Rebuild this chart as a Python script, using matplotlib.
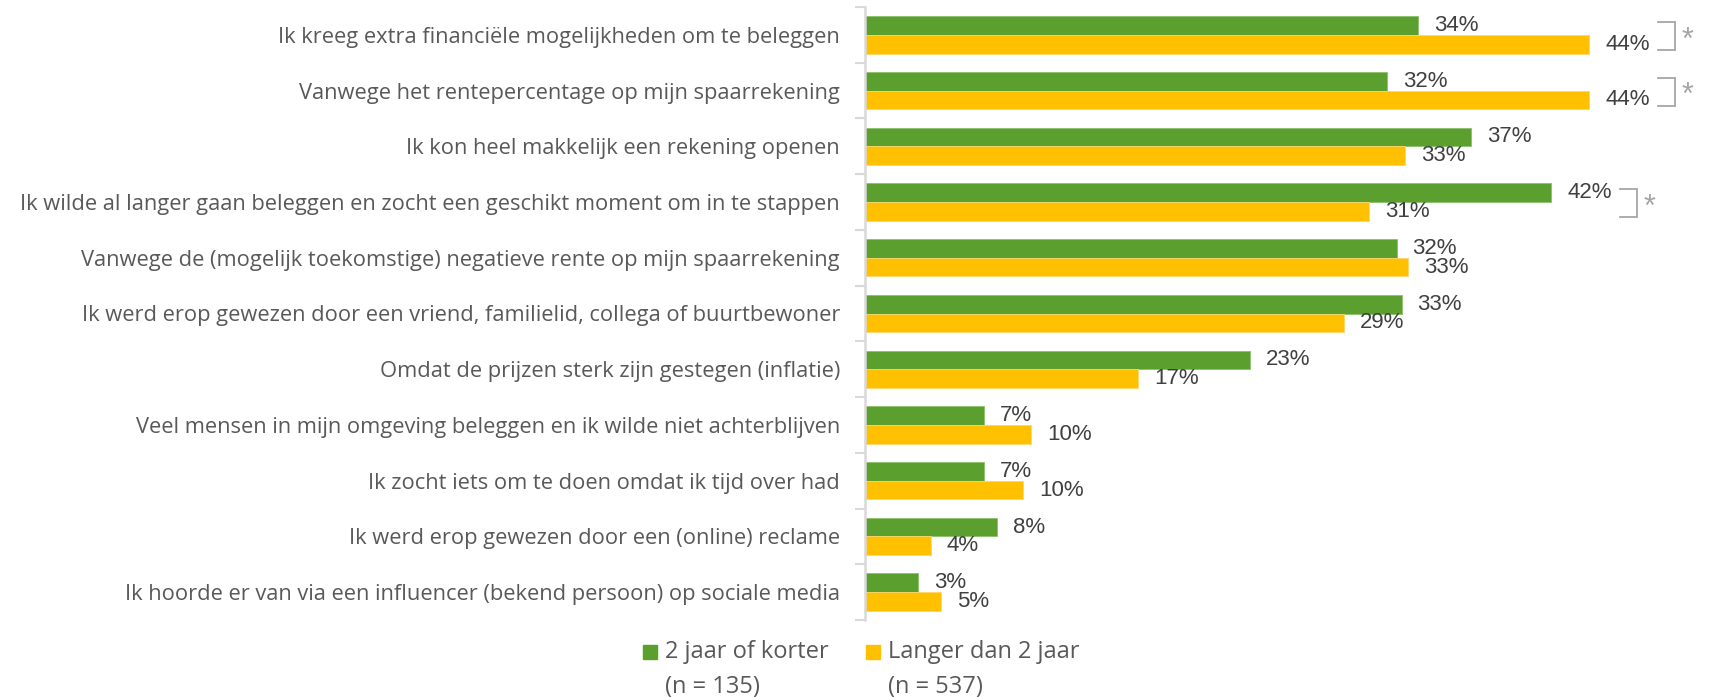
import matplotlib
matplotlib.use("Agg")
import matplotlib.pyplot as plt
from matplotlib.patches import Rectangle
import numpy as np

categories = [
    "Ik kreeg extra financiële mogelijkheden om te beleggen",
    "Vanwege het rentepercentage op mijn spaarrekening",
    "Ik kon heel makkelijk een rekening openen",
    "Ik wilde al langer gaan beleggen en zocht een geschikt moment om in te stappen",
    "Vanwege de (mogelijk toekomstige) negatieve rente op mijn spaarrekening",
    "Ik werd erop gewezen door een vriend, familielid, collega of buurtbewoner",
    "Omdat de prijzen sterk zijn gestegen (inflatie)",
    "Veel mensen in mijn omgeving beleggen en ik wilde niet achterblijven",
    "Ik zocht iets om te doen omdat ik tijd over had",
    "Ik werd erop gewezen door een (online) reclame",
    "Ik hoorde er van via een influencer (bekend persoon) op sociale media",
]
short_vals = [33.6, 31.7, 36.8, 41.7, 32.3, 32.6, 23.4, 7.2, 7.2, 8.0, 3.2]
long_vals = [44.0, 44.0, 32.8, 30.6, 33.0, 29.1, 16.6, 10.1, 9.6, 4.0, 4.6]
significant = [True, True, False, True, False, False, False, False, False, False, False]
series_names = ["2 jaar of korter", "Langer dan 2 jaar"]
series_n = ["(n = 135)", "(n = 537)"]

GREEN = "#5B9F2F"
ORANGE = "#FFC000"
LABEL_C = "#404040"
CAT_C = "#595959"
GRAY = "#A6A6A6"

W, H, DPI = 1711, 697, 100
fig = plt.figure(figsize=(W / DPI, H / DPI), dpi=DPI)
ax_left, ax_top, ax_bottom = 865, 7, 620
ax = fig.add_axes([ax_left / W, 1 - ax_bottom / H, (W - ax_left) / W, (ax_bottom - ax_top) / H])

xmax = 51.4
ax.set_xlim(0, xmax)
n = len(categories)
ax.set_ylim(n - 0.5, -0.5)
y = np.arange(n)
bh = 0.335
ax.barh(y - bh / 2, short_vals, height=bh, color=GREEN, edgecolor="#8CC06A", linewidth=0.6)
ax.barh(y + bh / 2, long_vals, height=bh, color=ORANGE, edgecolor="#FFD66A", linewidth=0.6)

px_per_unit = (W - ax_left) / xmax
lab_font = dict(family="Liberation Sans", size=16, color=LABEL_C)
for i in range(n):
    ax.annotate(f"{short_vals[i]:.0f}%", (short_vals[i], y[i] - bh / 2), xytext=(11.5, 0),
                textcoords="offset points", ha="left", va="center", **lab_font)
    ax.annotate(f"{long_vals[i]:.0f}%", (long_vals[i], y[i] + bh / 2), xytext=(11.5, 0),
                textcoords="offset points", ha="left", va="center", **lab_font)
    if significant[i]:
        m = max(short_vals[i], long_vals[i])
        x0 = m + 69 / px_per_unit
        x1 = m + 86 / px_per_unit
        xs = m + 98 / px_per_unit
        ax.plot([x0, x1, x1, x0], [y[i] - 0.23, y[i] - 0.23, y[i] + 0.27, y[i] + 0.27],
                color=GRAY, lw=1.3, clip_on=False, solid_joinstyle="miter")
        ax.text(xs, y[i] + 0.1, "*", ha="center", va="center", fontsize=22, color=GRAY,
                family="Liberation Sans")

ax.set_yticks(y)
ax.set_yticklabels(categories, fontsize=15.75, color=CAT_C, family="Open Sans")
ax.tick_params(axis="y", which="major", length=0, pad=18)
ax.set_yticks(np.arange(n + 1) - 0.5, minor=True)
ax.tick_params(axis="y", which="minor", length=7, width=1.5, color="#D9D9D9")
ax.set_xticks([])
for s in ["top", "right", "bottom"]:
    ax.spines[s].set_visible(False)
ax.spines["left"].set_color("#D9D9D9")
ax.spines["left"].set_linewidth(1.8)

# legend
leg_x = [643, 866]
colors = [GREEN, ORANGE]
for k in range(2):
    fig.patches.append(Rectangle((leg_x[k] / W, 1 - 659 / H), 14 / W, 14 / H,
                                 transform=fig.transFigure, color=colors[k]))
    fig.text((leg_x[k] + 22) / W, 1 - 652 / H, series_names[k], ha="left", va="center",
             fontsize=17, color=CAT_C, family="Open Sans")
    fig.text((leg_x[k] + 22) / W, 1 - 687 / H, series_n[k], ha="left", va="center",
             fontsize=17, color=CAT_C, family="Open Sans")

fig.savefig("out.png", dpi=DPI)
